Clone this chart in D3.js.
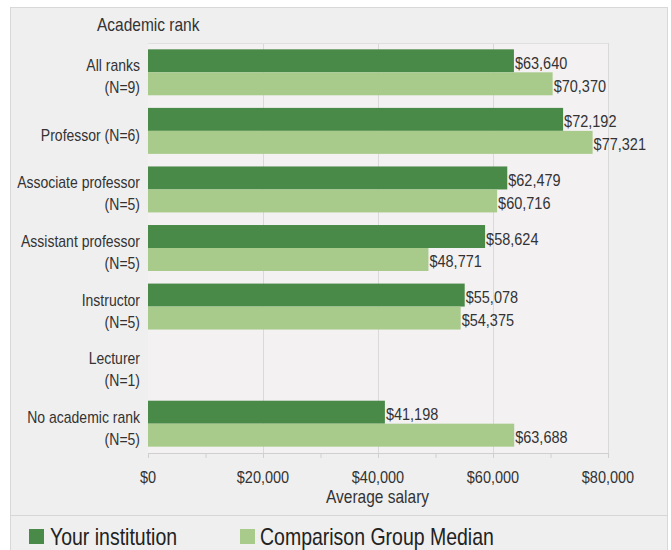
<!DOCTYPE html>
<html><head><meta charset="utf-8">
<script src="https://cdn.jsdelivr.net/npm/d3@7"></script>
<style>body{margin:0;background:#fff;}svg{display:block;font-family:"Liberation Sans",Arial,sans-serif;}</style>
</head><body>
<svg id="c" width="671" height="550"></svg>
<script>
const categories = [["All ranks","(N=9)"],["Professor (N=6)"],["Associate professor","(N=5)"],["Assistant professor","(N=5)"],["Instructor","(N=5)"],["Lecturer","(N=1)"],["No academic rank","(N=5)"]];
const yourInstitution = [63640, 72192, 62479, 58624, 55078, null, 41198];
const comparisonMedian = [70370, 77321, 60716, 48771, 54375, null, 63688];
const seriesNames = ["Your institution", "Comparison Group Median"];
const xTicks = [0, 20000, 40000, 60000, 80000];
const minorTicks = [0,10000,20000,30000,40000,50000,60000,70000,80000];
const colors = ["#4a8a48", "#a8ca8b"];

const SY = 1.2; // vertical stretch of the reference's text
function txt(parent, x, y, s, size, anchor, fill) {
  return parent.append("text")
    .attr("transform", `translate(${x},${y}) scale(1,${SY})`)
    .attr("font-size", size).attr("text-anchor", anchor || "start")
    .attr("fill", fill || "#333").text(s);
}

const svg = d3.select("#c");
// panel
svg.append("rect").attr("x",10.5).attr("y",7.5).attr("width",657).attr("height",543).attr("fill","#efefef").attr("stroke","#d8d8d8");
svg.append("line").attr("x1",10).attr("x2",668).attr("y1",515.5).attr("y2",515.5).attr("stroke","#d6d6d6");

const m = {l:148, r:608, t:43, b:453};
const x = d3.scaleLinear().domain([0,80000]).range([m.l, m.r]);
const y = d3.scaleBand().domain(d3.range(categories.length)).range([m.t, m.b]).paddingInner(0.215).paddingOuter(0.108);

svg.append("rect").attr("x",m.l).attr("y",m.t).attr("width",m.r-m.l).attr("height",m.b-m.t).attr("fill","#f4f1f3");

// gridlines
svg.append("g").selectAll("line").data(xTicks.slice(1)).join("line")
  .attr("x1",d=>x(d)+0.5).attr("x2",d=>x(d)+0.5).attr("y1",m.t).attr("y2",m.b)
  .attr("stroke","#d9d9d9");
svg.append("line").attr("x1",m.l).attr("x2",m.r).attr("y1",m.t+0.5).attr("y2",m.t+0.5).attr("stroke","#e0e0e0");

const bh = y.bandwidth()/2;
const series = [yourInstitution, comparisonMedian];
series.forEach((vals, si) => {
  const g = svg.append("g");
  const data = vals.map((v,i)=>({v,i})).filter(d=>d.v!=null);
  g.selectAll("rect").data(data).join("rect")
    .attr("x", x(0)).attr("y", d=>y(d.i)+si*bh)
    .attr("width", d=>x(d.v)-x(0)).attr("height", bh)
    .attr("fill", colors[si]);
  data.forEach(d => txt(g, x(d.v)+1, y(d.i)+si*bh+bh/2+8, d3.format("$,")(d.v), 14.5));
});

// category labels
const cl = svg.append("g");
categories.forEach((lines,i)=>{
  const cy = y(i)+y.bandwidth()/2 + 4;
  const n = lines.length;
  lines.forEach((ln,j)=>{
    txt(cl, 140, cy + (j-(n-1)/2)*22 + 6, ln, 14, "end");
  });
});

// x axis
const ax = svg.append("g").attr("transform",`translate(0,${m.b})`);
ax.append("line").attr("x1",m.l).attr("x2",m.r).attr("y1",0.5).attr("y2",0.5).attr("stroke","#cfcfcf");
ax.selectAll("line.t").data(minorTicks).join("line").attr("class","t")
  .attr("x1",d=>x(d)+0.5).attr("x2",d=>x(d)+0.5).attr("y1",0).attr("y2",5).attr("stroke","#cfcfcf");
xTicks.forEach(d => txt(ax, x(d), 29.5, d3.format("$,")(d), 14.5, "middle"));

txt(svg, 97, 31, "Academic rank", 15.5);
txt(svg, 326, 503, "Average salary", 15.5);

// legend
const lg = svg.append("g");
[[29,50],[240,260]].forEach((p,i)=>{
  lg.append("rect").attr("x",p[0]).attr("y",529).attr("width",15).attr("height",15).attr("fill",colors[i]);
  txt(lg, p[1], 545, seriesNames[i], 19.5, "start", "#222");
});
</script>
</body></html>
